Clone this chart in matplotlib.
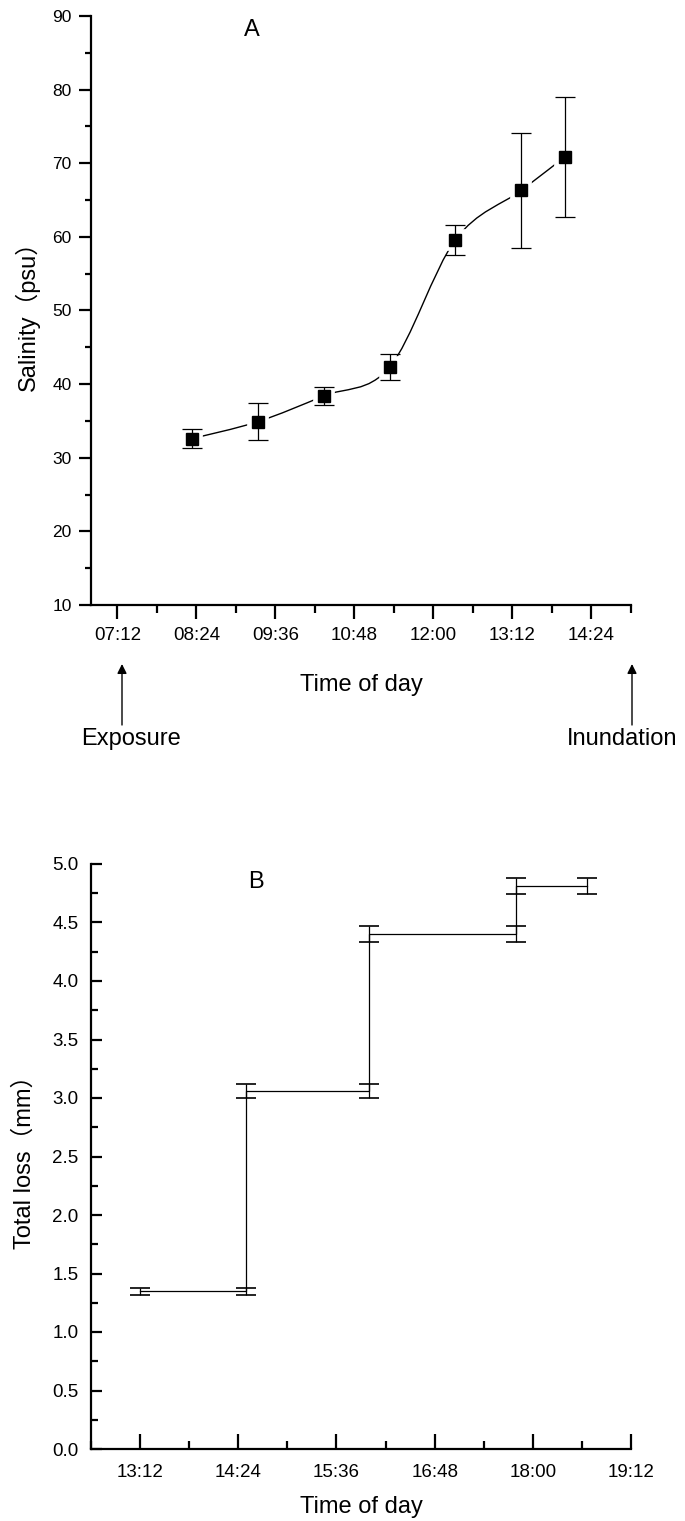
import numpy as np
import matplotlib
matplotlib.use("Agg")
import matplotlib.pyplot as plt
from matplotlib.ticker import MultipleLocator, FuncFormatter
from matplotlib.path import Path
from matplotlib.patches import PathPatch

plt.rcParams['font.family'] = ['Liberation Sans', 'Noto Sans CJK SC']

# panel A - salinity during exposure
sal_time = ['08:20', '09:20', '10:20', '11:20', '12:20', '13:20', '14:00']
sal_mean = [32.6, 34.9, 38.4, 42.3, 59.6, 66.3, 70.9]
sal_err = [1.25, 2.5, 1.25, 1.8, 2.0, 7.8, 8.15]

# panel B - cumulative loss
loss_time = ['13:12', '14:30', '16:00', '17:48', '18:40']
loss_level = [1.35, 3.06, 4.40, 4.81]
loss_err = [0.03, 0.06, 0.07, 0.07]


def to_min(s):
    h, m = s.split(':')
    return int(h) * 60 + int(m)


def hhmm(v, pos=None):
    v = int(round(v))
    return '%02d:%02d' % (v // 60, v % 60)


W, H = 685, 1521
fig = plt.figure(figsize=(W / 100, H / 100), dpi=100)


def px_axes(l, t, r, b):
    return fig.add_axes([l / W, 1 - b / H, (r - l) / W, (b - t) / H])


def style(ax, direction, xmaj, xmin, ymaj, ymin, pad_x, pad_y, ysize):
    for s in ['top', 'right']:
        ax.spines[s].set_visible(False)
    for s in ['left', 'bottom']:
        ax.spines[s].set_linewidth(1.6)
    ax.tick_params(axis='x', which='major', direction=direction, length=xmaj, width=1.6,
                   labelsize=13.5, pad=pad_x)
    ax.tick_params(axis='x', which='minor', direction=direction, length=xmin, width=1.6)
    ax.tick_params(axis='y', which='major', direction=direction, length=ymaj, width=1.6,
                   labelsize=ysize, pad=pad_y)
    ax.tick_params(axis='y', which='minor', direction=direction, length=ymin, width=1.6)


# ---------------- panel A ----------------
axA = px_axes(91, 16, 631, 605)
xa = np.array([to_min(t) for t in sal_time], dtype=float)
ya = np.array(sal_mean)

# smooth curve through the means (Catmull-Rom as cubic Bezier)
pts = np.column_stack([xa, ya])
ext = np.vstack([pts[0], pts, pts[-1]])
verts = [tuple(pts[0])]
codes = [Path.MOVETO]
for i in range(len(pts) - 1):
    p0, p1, p2, p3 = ext[i], ext[i + 1], ext[i + 2], ext[i + 3]
    verts += [tuple(p1 + (p2 - p0) / 6), tuple(p2 - (p3 - p1) / 6), tuple(p2)]
    codes += [Path.CURVE4] * 3
axA.add_patch(PathPatch(Path(verts, codes), fc='none', ec='black', lw=1.0, zorder=1))

axA.plot(xa, ya, 's', ms=8, mfc='black', mec='white', mew=7, zorder=2)
axA.errorbar(xa, ya, yerr=sal_err, fmt='none', ecolor='black', elinewidth=0.9,
             capsize=7, capthick=0.9, zorder=3)
axA.plot(xa, ya, 's', ms=8, color='black', zorder=4)

axA.set_xlim(to_min('06:48'), to_min('15:00'))
axA.set_ylim(10, 90)
axA.set_xticks([to_min('07:12') + 72 * k for k in range(7)])
axA.xaxis.set_minor_locator(MultipleLocator(36))
axA.xaxis.set_major_formatter(FuncFormatter(hhmm))
axA.yaxis.set_major_locator(MultipleLocator(10))
axA.yaxis.set_minor_locator(MultipleLocator(5))
style(axA, 'out', 10, 6, 9, 4, 6, 5, 12.5)
axA.set_xlabel('Time of day', fontsize=17)
axA.xaxis.label.set_va('center')
axA.xaxis.set_label_coords(0.5, (604 - 684) / 589)
axA.set_ylabel('Salinity（psu）', fontsize=17)
axA.yaxis.label.set_va('center')
axA.yaxis.set_label_coords((27 - 91) / 540, 0.5)
axA.text(252 / W, 1 - 30 / H, 'A', transform=fig.transFigure, fontsize=17,
         ha='center', va='center')

# exposure / inundation arrows
for xp, label, tx in [(122, 'Exposure', 131), (632, 'Inundation', 622)]:
    axA.annotate('', xy=(xp / W, 1 - 664 / H), xytext=(xp / W, 1 - 725 / H),
                 xycoords='figure fraction', textcoords='figure fraction',
                 arrowprops=dict(arrowstyle='-|>', color='black', lw=1.0,
                                 mutation_scale=14, shrinkA=0, shrinkB=0))
    fig.text(tx / W, 1 - 739 / H, label, fontsize=17, ha='center', va='center')

# ---------------- panel B ----------------
axB = px_axes(91, 864, 631, 1449)
xb = np.array([to_min(t) for t in loss_time], dtype=float)
axB.step(xb, loss_level + [loss_level[-1]], where='post', color='black', lw=0.9)
for i, (lv, er) in enumerate(zip(loss_level, loss_err)):
    axB.errorbar([xb[i], xb[i + 1]], [lv, lv], yerr=er, fmt='none', ecolor='black',
                 elinewidth=0.9, capsize=7, capthick=1.2)

axB.set_xlim(to_min('12:36'), to_min('19:12'))
axB.set_ylim(0, 5)
axB.set_xticks([to_min('13:12') + 72 * k for k in range(6)])
axB.xaxis.set_minor_locator(MultipleLocator(36))
axB.xaxis.set_major_formatter(FuncFormatter(hhmm))
axB.yaxis.set_major_locator(MultipleLocator(0.5))
axB.yaxis.set_minor_locator(MultipleLocator(0.25))
axB.yaxis.set_major_formatter(FuncFormatter(lambda v, p: '%.1f' % v))
style(axB, 'in', 11, 6, 8, 5, 11, 9, 13.5)
axB.set_xlabel('Time of day', fontsize=17)
axB.xaxis.label.set_va('center')
axB.xaxis.set_label_coords(0.5, (1449 - 1507) / 585)
axB.set_ylabel('Total loss（mm）', fontsize=17)
axB.yaxis.label.set_va('center')
axB.yaxis.set_label_coords((25 - 91) / 540, 0.5)
axB.text(256 / W, 1 - 882 / H, 'B', transform=fig.transFigure, fontsize=17,
         ha='center', va='center')

fig.savefig('out.png', dpi=100)
